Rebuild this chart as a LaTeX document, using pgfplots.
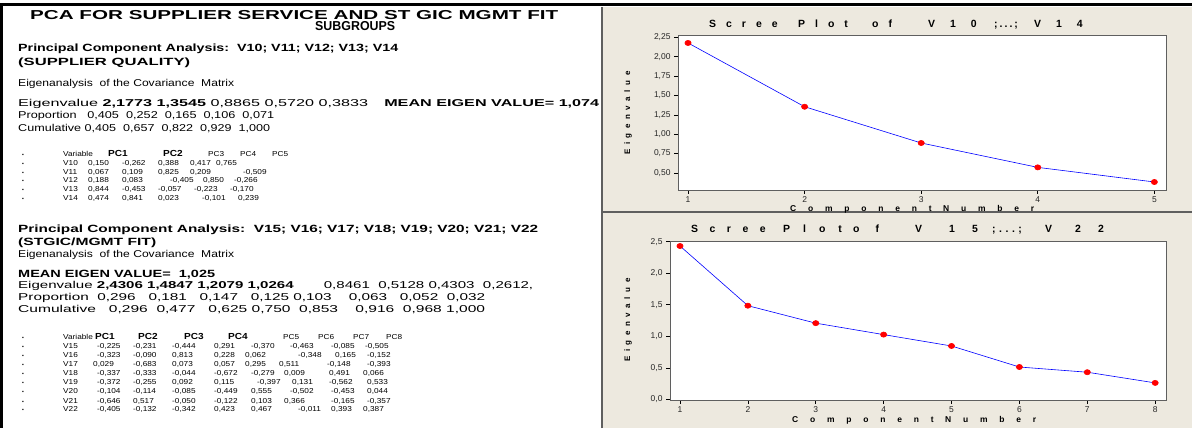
\documentclass[border=0pt]{standalone}
\usepackage{fontspec}
\setmainfont{Liberation Sans}
\newfontfamily\wide[FakeStretch=1.15]{Liberation Sans}
\usepackage{pgfplots}
\pgfplotsset{compat=1.18}
\definecolor{panelbg}{RGB}{237,233,223}
\definecolor{fr}{RGB}{95,95,95}
\newlength\lsgap
\makeatletter
\newcommand\ls[2]{\setlength\lsgap{#1}\ls@#2\relax}
\def\ls@#1{\ifx\relax#1\else#1\hskip\lsgap\expandafter\ls@\fi}
\makeatother
% text line: x, baseline (px from top), width, font, text
\newcommand\TL[5]{\node[anchor=base west,inner sep=0pt] at (#1,428-#2) {\resizebox{#3bp}{\height}{#4#5}};}
% table value
\newcommand\V[3]{\node[anchor=base west,inner sep=0pt,font=\wide\fontsize{7.2}{8}\selectfont] at (#1,428-#2) {#3};}
\newcommand\VB[3]{\node[anchor=base west,inner sep=0pt,font=\wide\fontsize{8.8}{9}\selectfont\bfseries] at (#1,428-#2) {#3};}
\newcommand\B[1]{\node[anchor=base west,inner sep=0pt,font=\fontsize{5}{6}\selectfont] at (22,428-#1) {▪};}
\newcommand\TT[4]{\node[anchor=base west,inner sep=0pt,font=\fontsize{10.5}{10}\selectfont\bfseries] at (#1,428-#2) {\ls{#3}{#4}};}
\newcommand\XL[4]{\node[anchor=base west,inner sep=0pt,font=\fontsize{8.5}{8}\selectfont\bfseries] at (#1,428-#2) {\ls{#3}{#4}};}
\newcommand\YL[3]{\node[anchor=base west,inner sep=0pt,rotate=90,font=\fontsize{8}{8}\selectfont\bfseries] at (#1,428-#2) {\ls{#3}{Eigenvalue}};}

\pgfplotsset{scree/.style={
  scale only axis, anchor=south west, clip=false,
  axis background/.style={fill=white},
  axis line style={draw=fr, line width=0.9bp},
  tick align=outside, xtick pos=bottom, ytick pos=left,
  major tick length=4bp,
  tick style={draw=black, line width=0.6bp},
  tick label style={font=\fontsize{8.5}{9}\selectfont, text=black!85},
  /pgf/number format/assume math mode=true,
  /pgf/number format/use comma,
  /pgf/number format/fixed,
  /pgf/number format/fixed zerofill,
  xticklabel style={yshift=1bp},
}}

\begin{document}
\begin{tikzpicture}[x=1bp,y=1bp]
\useasboundingbox (0,0) rectangle (1192,428);

% ---------------- left text panel ----------------
\TL{30}{20}{528}{\fontsize{13}{13}\selectfont\bfseries}{PCA FOR SUPPLIER SERVICE AND ST GIC MGMT FIT}
\TL{315}{31}{80}{\fontsize{13}{13}\selectfont\bfseries}{SUBGROUPS}

\TL{18}{51}{380}{\fontsize{10.5}{11}\selectfont\bfseries}{Principal Component Analysis:\ \ V10;\ V11;\ V12;\ V13;\ V14}
\TL{18}{65}{172}{\fontsize{10.5}{11}\selectfont\bfseries}{(SUPPLIER QUALITY)}
\TL{18}{86}{216}{\fontsize{10}{11}\selectfont}{Eigenanalysis\ \ of the Covariance\ \ Matrix}
\TL{18}{106}{581}{\fontsize{10}{11}\selectfont}{Eigenvalue \textbf{2,1773 1,3545} 0,8865\ 0,5720\ 0,3833\quad \textbf{MEAN EIGEN VALUE=\ 1,074}}
\TL{18}{118}{256}{\fontsize{10}{11}\selectfont}{Proportion\ \ \ 0,405\ \ 0,252\ \ 0,165\ \ 0,106\ \ 0,071}
\TL{18}{131}{252}{\fontsize{10}{11}\selectfont}{Cumulative 0,405\ \ 0,657\ \ 0,822\ \ 0,929\ \ 1,000}

% table 1
\B{156}\B{165}\B{174}\B{182}\B{191}\B{200}
\V{63}{156}{Variable}\VB{108}{156}{PC1}\VB{163}{156}{PC2}\V{208}{156}{PC3}\V{240}{156}{PC4}\V{272}{156}{PC5}
\V{63}{165}{V10}\V{88}{165}{0,150}\V{122}{165}{-0,262}\V{158}{165}{0,388}\V{190}{165}{0,417}\V{216}{165}{0,765}
\V{63}{174}{V11}\V{88}{174}{0,067}\V{122}{174}{0,109}\V{158}{174}{0,825}\V{190}{174}{0,209}\V{243}{174}{-0,509}
\V{63}{182}{V12}\V{88}{182}{0,188}\V{122}{182}{0,083}\V{170}{182}{-0,405}\V{203}{182}{0,850}\V{234}{182}{-0,266}
\V{63}{191}{V13}\V{88}{191}{0,844}\V{122}{191}{-0,453}\V{158}{191}{-0,057}\V{194}{191}{-0,223}\V{230}{191}{-0,170}
\V{63}{200}{V14}\V{88}{200}{0,474}\V{122}{200}{0,841}\V{158}{200}{0,023}\V{202}{200}{-0,101}\V{238}{200}{0,239}

\TL{18}{232}{520}{\fontsize{10.5}{11}\selectfont\bfseries}{Principal Component Analysis:\ \ V15;\ V16;\ V17;\ V18;\ V19;\ V20;\ V21;\ V22}
\TL{18}{245}{138}{\fontsize{10.5}{11}\selectfont\bfseries}{(STGIC/MGMT FIT)}
\TL{18}{257}{216}{\fontsize{10}{11}\selectfont}{Eigenanalysis\ \ of the Covariance\ \ Matrix}
\TL{18}{277}{197}{\fontsize{10.5}{11}\selectfont\bfseries}{MEAN EIGEN VALUE=\ \ 1,025}
\TL{18}{288}{515}{\fontsize{10}{11}\selectfont}{Eigenvalue \textbf{2,4306 1,4847 1,2079 1,0264}\qquad 0,8461\ \ 0,5128 0,4303\ \ 0,2612,}
\TL{18}{300}{467}{\fontsize{10}{11}\selectfont}{Proportion\ \ 0,296\ \ \ 0,181\ \ \ 0,147\ \ \ 0,125 0,103\ \ \ \ 0,063\ \ \ 0,052\ \ 0,032}
\TL{18}{312}{467}{\fontsize{10}{11}\selectfont}{Cumulative\ \ \ 0,296\ \ 0,477\ \ \ 0,625 0,750\ \ 0,853\ \ \ \ 0,916\ \ 0,968 1,000}

% table 2
\B{339}\B{348}\B{357}\B{366}\B{375}\B{384}\B{393}\B{403}\B{411}
\V{63}{339}{Variable}\VB{95}{339}{PC1}\VB{138}{339}{PC2}\VB{184}{339}{PC3}\VB{228}{339}{PC4}\V{283}{339}{PC5}\V{318}{339}{PC6}\V{353}{339}{PC7}\V{386}{339}{PC8}
\V{63}{348}{V15}\V{97}{348}{-0,225}\V{133}{348}{-0,231}\V{172}{348}{-0,444}\V{214}{348}{0,291}\V{251}{348}{-0,370}\V{290}{348}{-0,463}\V{331}{348}{-0,085}\V{365}{348}{-0,505}
\V{63}{357}{V16}\V{97}{357}{-0,323}\V{133}{357}{-0,090}\V{172}{357}{0,813}\V{214}{357}{0,228}\V{245}{357}{0,062}\V{298}{357}{-0,348}\V{335}{357}{0,165}\V{367}{357}{-0,152}
\V{63}{366}{V17}\V{93}{366}{0,029}\V{133}{366}{-0,683}\V{172}{366}{0,073}\V{214}{366}{0,057}\V{245}{366}{0,295}\V{279}{366}{0,511}\V{327}{366}{-0,148}\V{367}{366}{-0,393}
\V{63}{375}{V18}\V{97}{375}{-0,337}\V{133}{375}{-0,333}\V{172}{375}{-0,044}\V{214}{375}{-0,672}\V{251}{375}{-0,279}\V{284}{375}{0,009}\V{329}{375}{0,491}\V{363}{375}{0,066}
\V{63}{384}{V19}\V{97}{384}{-0,372}\V{133}{384}{-0,255}\V{172}{384}{0,092}\V{214}{384}{0,115}\V{257}{384}{-0,397}\V{292}{384}{0,131}\V{329}{384}{-0,562}\V{367}{384}{0,533}
\V{63}{393}{V20}\V{97}{393}{-0,104}\V{133}{393}{-0,114}\V{172}{393}{-0,085}\V{214}{393}{-0,449}\V{251}{393}{0,555}\V{290}{393}{-0,502}\V{331}{393}{-0,453}\V{367}{393}{0,044}
\V{63}{403}{V21}\V{97}{403}{-0,646}\V{133}{403}{0,517}\V{172}{403}{-0,050}\V{214}{403}{-0,122}\V{251}{403}{0,103}\V{284}{403}{0,366}\V{331}{403}{-0,165}\V{367}{403}{-0,357}
\V{63}{411}{V22}\V{97}{411}{-0,405}\V{133}{411}{-0,132}\V{172}{411}{-0,342}\V{214}{411}{0,423}\V{251}{411}{0,467}\V{298}{411}{-0,011}\V{331}{411}{0,393}\V{363}{411}{0,387}

% ---------------- frame lines ----------------
\fill[black] (0,422) rectangle (1192,425);
\fill[black] (0,0) rectangle (3,425);

% ---------------- right panel ----------------
\fill[panelbg] (602,0) rectangle (1192,421);
\draw[fr,line width=1.2bp] (602,0) -- (602,421);
\draw[fr,line width=1.2bp] (602,216) -- (1192,216);

% upper scree plot
\begin{axis}[scree, at={(678bp,238bp)}, width=488bp, height=155bp,
  xmin=0.914, xmax=5.10, ymin=0.28, ymax=2.28,
  xtick={1,2,3,4,5}, xticklabels={1,2,3,4,5},
  ytick={0.5,0.75,1,1.25,1.5,1.75,2,2.25},
  yticklabel style={/pgf/number format/precision=2}]
\addplot[blue, line width=0.6bp, mark=*, mark size=2.6bp,
  mark options={fill=red, draw=red, xscale=1.2}]
  coordinates {(1,2.1773) (2,1.3545) (3,0.8865) (4,0.5720) (5,0.3833)};
\end{axis}

% lower scree plot
\begin{axis}[scree, at={(670bp,28bp)}, width=496bp, height=159bp,
  xmin=0.853, xmax=8.16, ymin=-0.01, ymax=2.51,
  xtick={1,2,3,4,5,6,7,8}, xticklabels={1,2,3,4,5,6,7,8},
  ytick={0,0.5,1,1.5,2,2.5},
  yticklabel style={/pgf/number format/precision=1}]
\addplot[blue, line width=0.6bp, mark=*, mark size=2.6bp,
  mark options={fill=red, draw=red, xscale=1.2}]
  coordinates {(1,2.4306) (2,1.4847) (3,1.2079) (4,1.0264) (5,0.8461) (6,0.5128) (7,0.4303) (8,0.2612)};
\end{axis}

% titles
\TT{709}{28}{10bp}{Scree}\TT{798}{28}{10bp}{Plot}\TT{872}{28}{10bp}{of}
\TT{928}{28}{15bp}{V10}\TT{994}{28}{2bp}{;...;}\TT{1034}{28}{15bp}{V14}
\TT{691}{232}{11.5bp}{Scree}\TT{783}{232}{13bp}{Plot}\TT{853}{232}{16bp}{of}
\TT{915}{232}{0bp}{V}\TT{949}{232}{17bp}{15}\TT{992}{232}{3.5bp}{;...;}
\TT{1045}{232}{0bp}{V}\TT{1075}{232}{17bp}{22}
% x labels
\XL{790}{211}{11.8bp}{Component}\XL{943}{211}{11.8bp}{Number}
\XL{792}{422}{11.8bp}{Component}\XL{945}{422}{11.8bp}{Number}
% y labels
\YL{630}{155}{4.6bp}
\YL{630}{362}{4.6bp}
\end{tikzpicture}
\end{document}
